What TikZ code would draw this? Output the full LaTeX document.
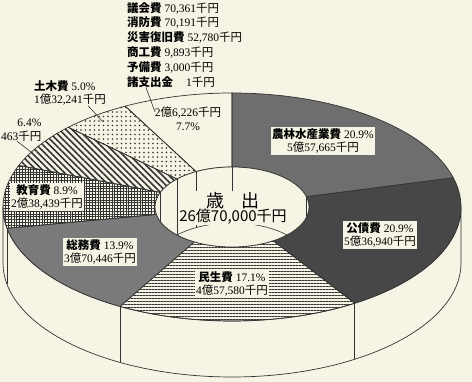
\documentclass[tikz,border=0pt]{standalone}
\usepackage{fontspec}
\setmainfont{Liberation Serif}
\newfontfamily\jp{Noto Sans CJK JP}
\usetikzlibrary{patterns.meta}
\definecolor{paper}{HTML}{F6F4E4}
\definecolor{ink}{HTML}{333333}
\definecolor{norin}{HTML}{6E6E6E}
\definecolor{kousai}{HTML}{474747}
\definecolor{soumu}{HTML}{7A7A7A}
\newcommand{\jpname}[1]{{\jp\bfseries #1}}
\newcommand{\jpunit}[1]{{\jp #1}}
% one piece of the ring: start angle, end angle, looks
\newcommand{\ringpart}[3]{\path[slice,#3] (#1:229 and 114) arc[start angle=#1, end angle=#2, x radius=229, y radius=114] -- (#2:77 and 40) arc[start angle=#2, end angle=#1, x radius=77, y radius=40] -- cycle;}

\begin{document}
\begin{tikzpicture}[x=1pt,y=1pt]
%define
\tikzstyle{slice} = [draw=ink, line width=0.7pt, line join=round]
\tikzstyle{thin} = [draw=ink, line width=0.6pt]
\tikzstyle{lbl} = [fill=paper, inner sep=1.5pt, align=center, font=\fontsize{11.5}{13.5}\selectfont]
\tikzstyle{note} = [inner sep=0pt, font=\fontsize{11.5}{13.5}\selectfont]
\tikzstyle{leader} = [draw=ink, line width=0.6pt]

\useasboundingbox (0,0) rectangle (472,382);
\fill[paper] (0,0) rectangle (472,382);

\begin{scope}[shift={(232,175)}]
%side
\filldraw[fill=paper, slice] (180:229 and 114) arc[start angle=180, end angle=360, x radius=229, y radius=114] -- ++(0,-56) arc[start angle=0, end angle=-180, x radius=229, y radius=114] -- cycle;
\foreach \t in {-57.59,-119.29,-169.24}
  \draw[slice] (\t:229 and 114) -- ++(0,-56);

%ring
\ringpart{90}{14.81}{fill=norin}
\ringpart{14.81}{-57.59}{fill=kousai}
\ringpart{-57.59}{-119.29}{pattern={Lines[angle=0,distance=3pt,line width=0.9pt]}, pattern color=ink}
\ringpart{-119.29}{-169.24}{fill=soumu}
\ringpart{-169.24}{-201.39}{pattern={Hatch[angle=0,distance=2.8pt,line width=0.8pt]}, pattern color=ink}
\ringpart{158.61}{135.63}{pattern={Lines[angle=-45,distance=4.5pt,line width=1.6pt]}, pattern color=ink}
\ringpart{135.63}{117.8}{pattern={Dots[distance=4.5pt,radius=0.85pt]}, pattern color=ink}
\ringpart{117.8}{90}{}

%hole
\filldraw[fill=paper, slice] (0,0) ellipse[x radius=77, y radius=40];
\begin{scope}
\clip (0,0) ellipse[x radius=77, y radius=40];
\draw[thin] (0,-56) ellipse[x radius=77, y radius=40];
\foreach \t in {14.81,90,117.8,135.63,158.61}
  \draw[thin] (\t:77 and 40) -- ++(0,-56);
\end{scope}
\end{scope}

%labels
\node[lbl, inner sep=0.5pt] (total) at (233,174) {{\jp\fontsize{18}{20}\selectfont 歳\hspace{1em}出}\\[-1pt]{\jp\fontsize{15}{17}\selectfont 26億70,000千円}};
\node[lbl] (norin) at (323,241) {\jpname{農林水産業費} 20.9\%\\5\jpunit{億}57,665\jpunit{千円}};
\node[lbl] (kousai) at (380,147) {\jpname{公債費} 20.9\%\\5\jpunit{億}36,940\jpunit{千円}};
\node[lbl] (minsei) at (232,98) {\jpname{民生費} 17.1\%\\4\jpunit{億}57,580\jpunit{千円}};
\node[lbl] (soumu) at (100,130) {\jpname{総務費} 13.9\%\\3\jpunit{億}70,446\jpunit{千円}};
\node[lbl] (kyouiku) at (47,185) {\jpname{教育費} 8.9\%\\2\jpunit{億}38,439\jpunit{千円}};
\node[note, align=left] (doboku) at (70,289) {\jpname{土木費} 5.0\%\\1\jpunit{億}32,241\jpunit{千円}};
\node[note, align=right, anchor=west] (eisei) at (1,252) {6.4\%\\463\jpunit{千円}};
\node[note, align=center] (sonota) at (188,263) {2\jpunit{億}6,226\jpunit{千円}\\7.7\%};
\node[note, align=left, anchor=north west, font=\fontsize{11.5}{14.8}\selectfont] (others) at (127,380) {\jpname{議会費} 70,361\jpunit{千円}\\\jpname{消防費} 70,191\jpunit{千円}\\\jpname{災害復旧費} 52,780\jpunit{千円}\\\jpname{商工費} 9,893\jpunit{千円}\\\jpname{予備費} 3,000\jpunit{千円}\\\jpname{諸支出金}\hspace{13pt}1\jpunit{千円}};

%leaders
\coordinate (othersend) at (155,270);
\coordinate (dobokuend) at (103,260);
\coordinate (eiseiend) at (31,230);
\draw[leader] ([xshift=16pt]eisei.south west) -- (eiseiend);
\draw[leader] ([xshift=19pt]others.south west) -- (othersend);
\draw[leader] ([xshift=18pt]doboku.south) -- (dobokuend);

\end{tikzpicture}
\end{document}
